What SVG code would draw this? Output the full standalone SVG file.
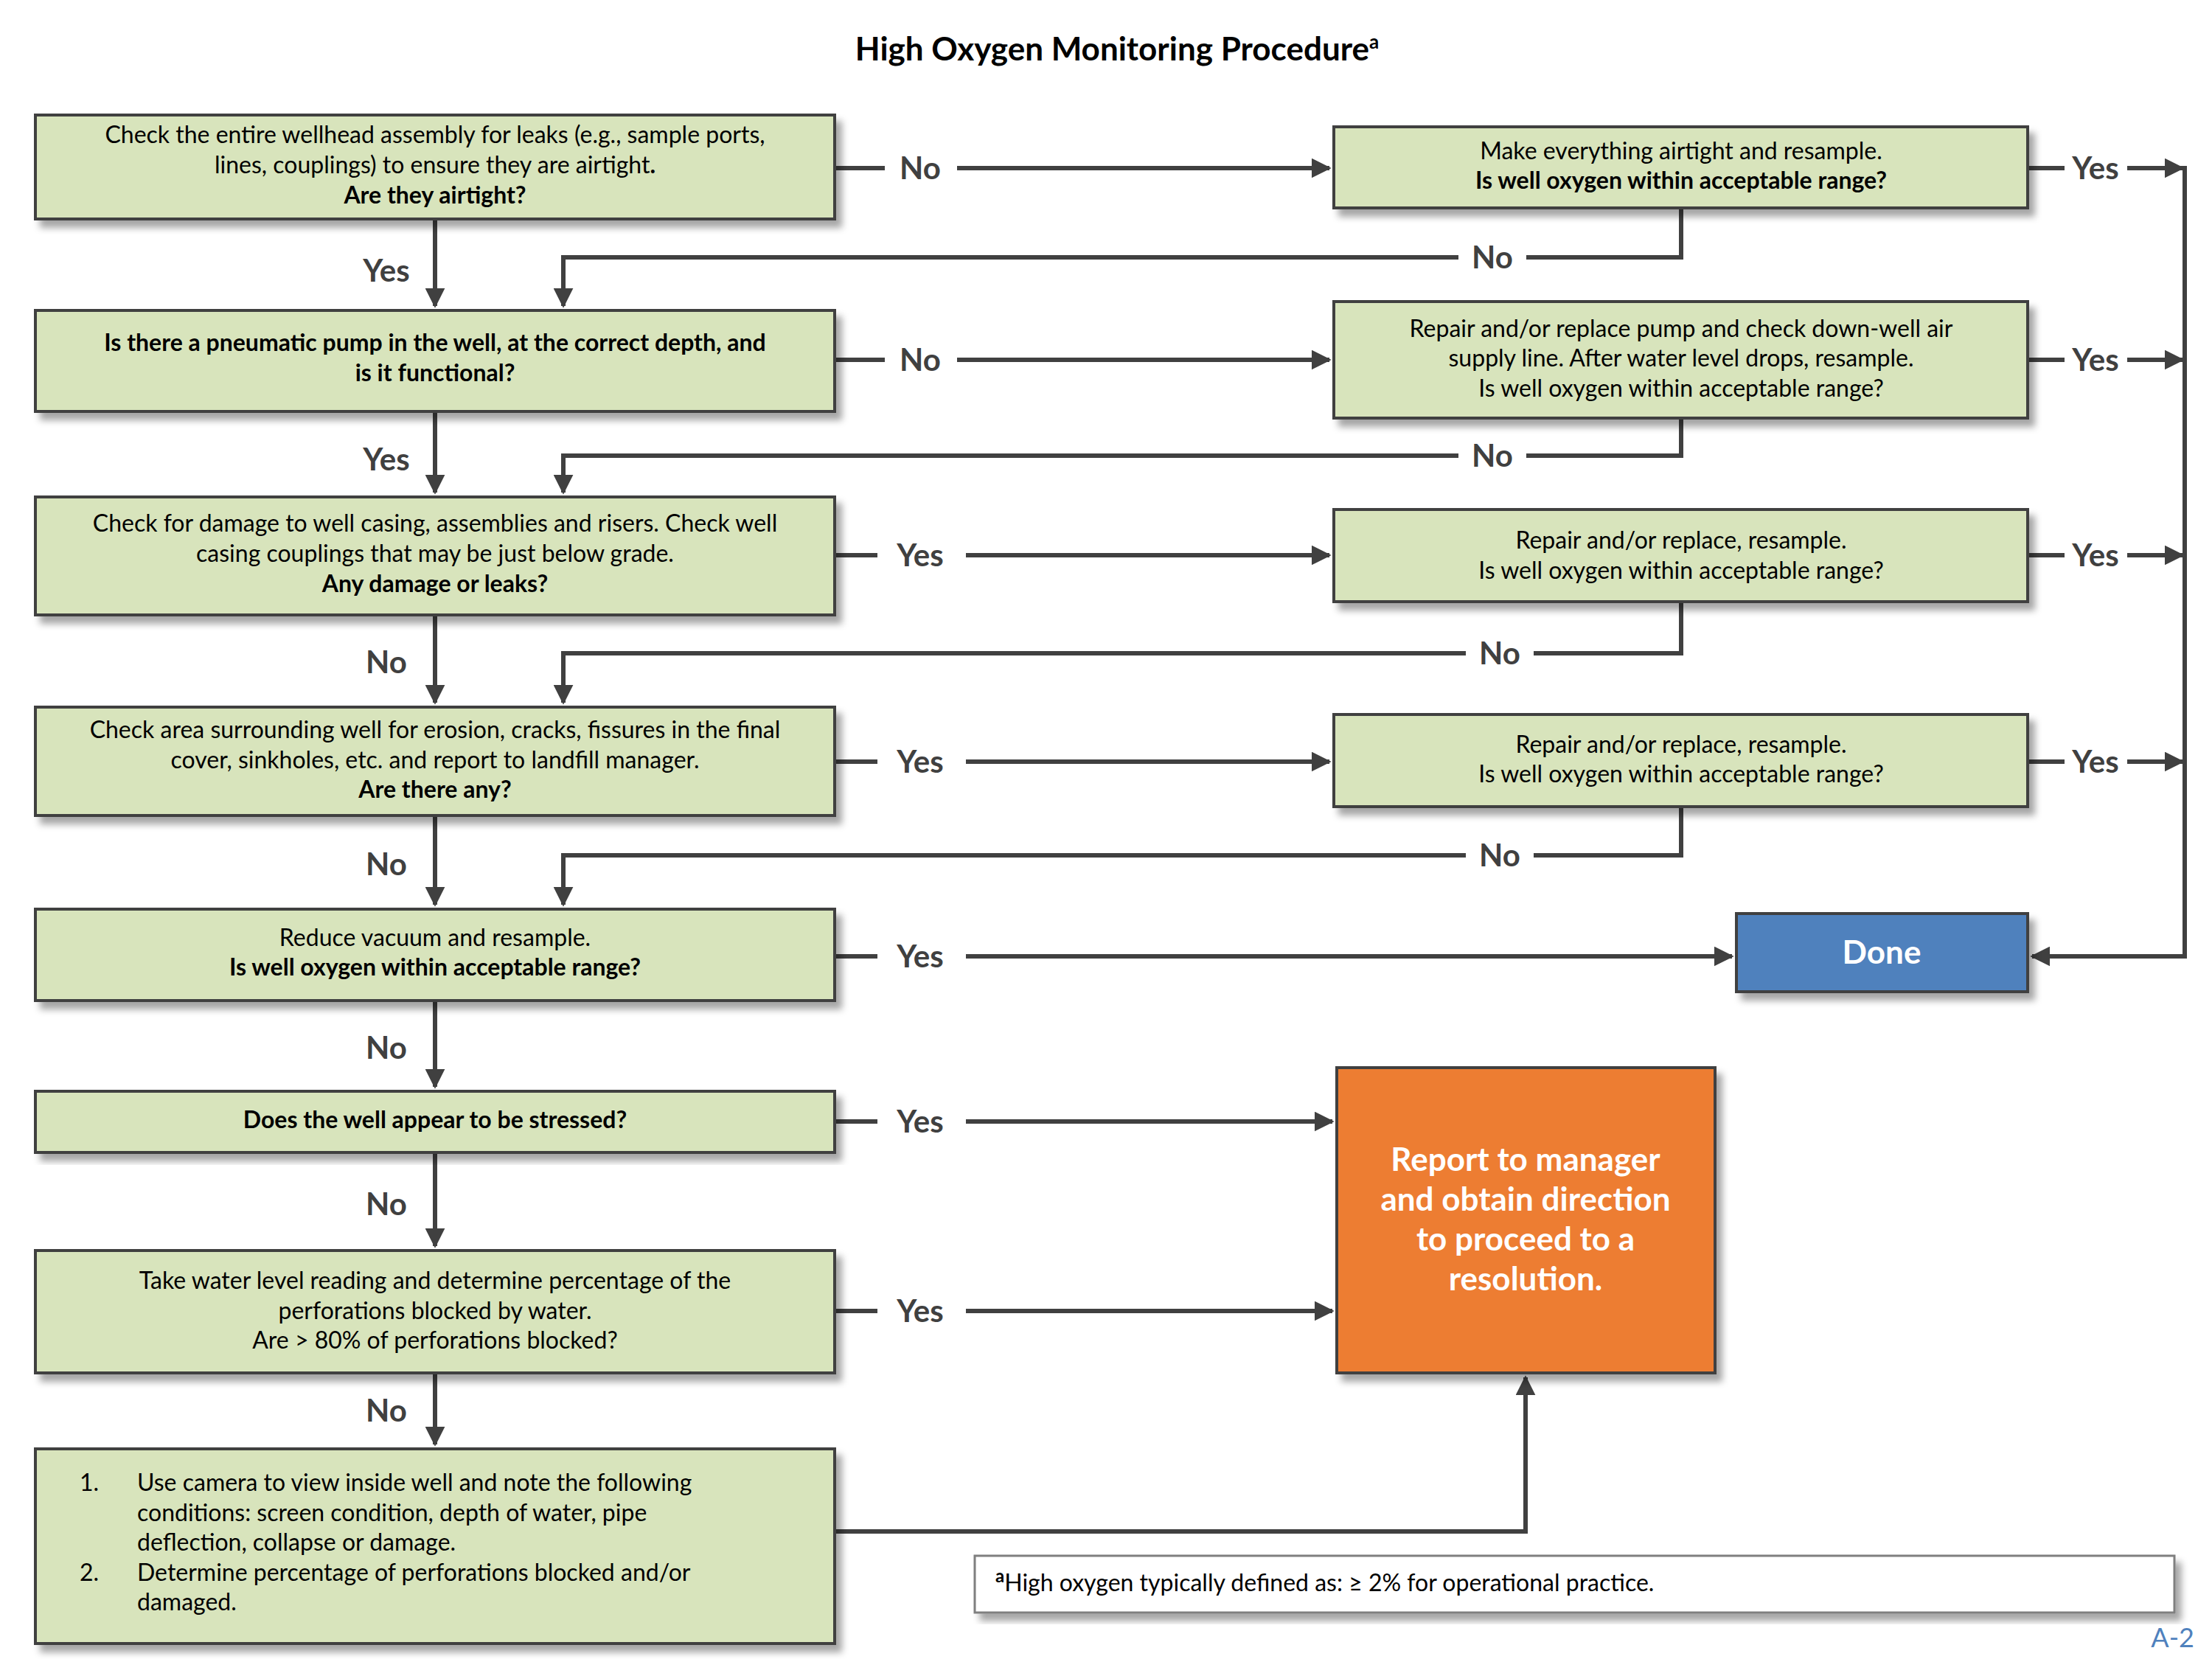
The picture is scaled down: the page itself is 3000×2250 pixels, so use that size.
<svg xmlns="http://www.w3.org/2000/svg" width="3000" height="2250" viewBox="0 0 3000 2250">
<style>
text{font-family:Lato,"Open Sans","Liberation Sans",sans-serif;fill:#000}
.t{font-size:32px;text-anchor:middle}
.b{font-weight:bold}
.g{fill:#d8e4bc;stroke:#404040;stroke-width:4;filter:url(#sh)}
.lbl{font-size:42px;font-weight:bold;fill:#404040;text-anchor:middle}
.c{fill:none;stroke:#404040;stroke-width:6}
.a{marker-end:url(#ah)}
</style>
<defs>
<filter id="sh" x="-5%" y="-10%" width="115%" height="130%"><feDropShadow dx="8" dy="10" stdDeviation="5" flood-color="#000" flood-opacity="0.35"/></filter>
<marker id="ah" viewBox="0 0 10 10" refX="9" refY="5" markerWidth="4.5" markerHeight="4.5" orient="auto" markerUnits="strokeWidth"><path d="M0,0L10,5L0,10z" fill="#404040"/></marker>
</defs>
<rect width="3000" height="2250" fill="#fff"/>
<text x="1515" y="82" font-size="44" font-weight="bold" text-anchor="middle">High Oxygen Monitoring Procedure<tspan font-size="26" dy="-16">a</tspan></text>

<g id="connectors">
<path class="c a" d="M590,297V415"/><path class="c a" d="M590,558V668"/><path class="c a" d="M590,834V953"/><path class="c a" d="M590,1106V1227"/><path class="c a" d="M590,1357V1474"/><path class="c a" d="M590,1563V1690"/><path class="c a" d="M590,1862V1959"/>
<path class="c" d="M1132,228H1200"/><path class="c a" d="M1298,228H1803"/>
<path class="c" d="M1132,488H1200"/><path class="c a" d="M1298,488H1803"/>
<path class="c" d="M1132,753H1190"/><path class="c a" d="M1310,753H1803"/>
<path class="c" d="M1132,1033H1190"/><path class="c a" d="M1310,1033H1803"/>
<path class="c" d="M1132,1297H1190"/><path class="c a" d="M1310,1297H2349"/>
<path class="c" d="M1132,1521H1190"/><path class="c a" d="M1310,1521H1807"/>
<path class="c" d="M1132,1778H1190"/><path class="c a" d="M1310,1778H1807"/>
<path class="c a" d="M1132,2077H2069V1868"/>
<path class="c" d="M2280,282V349H2070"/><path class="c a" d="M1978,349H764V415"/>
<path class="c" d="M2280,567V618H2070"/><path class="c a" d="M1978,618H764V668"/>
<path class="c" d="M2280,816V886H2080"/><path class="c a" d="M1988,886H764V953"/>
<path class="c" d="M2280,1094V1160H2080"/><path class="c a" d="M1988,1160H764V1227"/>
<path class="c" d="M2750,228H2800"/><path class="c a" d="M2885,228H2960"/>
<path class="c" d="M2750,488H2800"/><path class="c a" d="M2885,488H2960"/>
<path class="c" d="M2750,753H2800"/><path class="c a" d="M2885,753H2960"/>
<path class="c" d="M2750,1033H2800"/><path class="c a" d="M2885,1033H2960"/>
<path class="c a" d="M2963,225V1297H2756"/>
<text class="lbl" x="1248" y="243">No</text><text class="lbl" x="1248" y="503">No</text>
<text class="lbl" x="1248" y="768">Yes</text><text class="lbl" x="1248" y="1048">Yes</text>
<text class="lbl" x="1248" y="1312">Yes</text><text class="lbl" x="1248" y="1536">Yes</text><text class="lbl" x="1248" y="1793">Yes</text>
<text class="lbl" x="2842" y="243">Yes</text><text class="lbl" x="2842" y="503">Yes</text><text class="lbl" x="2842" y="768">Yes</text><text class="lbl" x="2842" y="1048">Yes</text>
<text class="lbl" x="2024" y="364">No</text><text class="lbl" x="2024" y="633">No</text><text class="lbl" x="2034" y="901">No</text><text class="lbl" x="2034" y="1175">No</text>
<text class="lbl" x="524" y="382">Yes</text><text class="lbl" x="524" y="638">Yes</text><text class="lbl" x="524" y="913">No</text><text class="lbl" x="524" y="1187">No</text><text class="lbl" x="524" y="1436">No</text><text class="lbl" x="524" y="1648">No</text><text class="lbl" x="524" y="1928">No</text>
</g>

<g id="n1"><rect class="g" x="48" y="156" width="1084" height="141"/>
<text class="t" x="590" y="194">Check the entire wellhead assembly for leaks (e.g., sample ports,</text>
<text class="t" x="590" y="235">lines, couplings) to ensure they are airtight<tspan class="b">.</tspan></text>
<text class="t b" x="590" y="276">Are they airtight?</text></g>
<g id="n2"><rect class="g" x="48" y="421" width="1084" height="137"/>
<text class="t b" x="590" y="476">Is there a pneumatic pump in the well, at the correct depth, and</text>
<text class="t b" x="590" y="517">is it functional?</text></g>
<g id="n3"><rect class="g" x="48" y="674" width="1084" height="160"/>
<text class="t" x="590" y="721">Check for damage to well casing, assemblies and risers. Check well</text>
<text class="t" x="590" y="762">casing couplings that may be just below grade.</text>
<text class="t b" x="590" y="803">Any damage or leaks?</text></g>
<g id="n4"><rect class="g" x="48" y="959" width="1084" height="147"/>
<text class="t" x="590" y="1001">Check area surrounding well for erosion, cracks, fissures in the final</text>
<text class="t" x="590" y="1042">cover, sinkholes, etc. and report to landfill manager.</text>
<text class="t b" x="590" y="1082">Are there any?</text></g>
<g id="n5"><rect class="g" x="48" y="1233" width="1084" height="124"/>
<text class="t" x="590" y="1283">Reduce vacuum and resample.</text>
<text class="t b" x="590" y="1323">Is well oxygen within acceptable range?</text></g>
<g id="n6"><rect class="g" x="48" y="1480" width="1084" height="83"/>
<text class="t b" x="590" y="1530">Does the well appear to be stressed?</text></g>
<g id="n7"><rect class="g" x="48" y="1696" width="1084" height="166"/>
<text class="t" x="590" y="1748">Take water level reading and determine percentage of the</text>
<text class="t" x="590" y="1789">perforations blocked by water.</text>
<text class="t" x="590" y="1829">Are &gt; 80% of perforations blocked?</text></g>
<g id="n8"><rect class="g" x="48" y="1965" width="1084" height="264"/>
<g font-size="32"><text x="108" y="2022">1.</text>
<text x="186" y="2022">Use camera to view inside well and note the following</text>
<text x="186" y="2063">conditions: screen condition, depth of water, pipe</text>
<text x="186" y="2103">deflection, collapse or damage.</text>
<text x="108" y="2144">2.</text>
<text x="186" y="2144">Determine percentage of perforations blocked and/or</text>
<text x="186" y="2184">damaged.</text></g></g>

<g id="r1"><rect class="g" x="1809" y="172" width="941" height="110"/>
<text class="t" x="2280" y="216">Make everything airtight and resample.</text>
<text class="t b" x="2280" y="256">Is well oxygen within acceptable range?</text></g>
<g id="r2"><rect class="g" x="1809" y="409" width="941" height="158"/>
<text class="t" x="2280" y="457">Repair and/or replace pump and check down-well air</text>
<text class="t" x="2280" y="497">supply line. After water level drops, resample.</text>
<text class="t" x="2280" y="538">Is well oxygen within acceptable range?</text></g>
<g id="r3"><rect class="g" x="1809" y="691" width="941" height="125"/>
<text class="t" x="2280" y="744">Repair and/or replace, resample.</text>
<text class="t" x="2280" y="785">Is well oxygen within acceptable range?</text></g>
<g id="r4"><rect class="g" x="1809" y="969" width="941" height="125"/>
<text class="t" x="2280" y="1021">Repair and/or replace, resample.</text>
<text class="t" x="2280" y="1061">Is well oxygen within acceptable range?</text></g>
<g id="done"><rect x="2355" y="1239" width="395" height="106" fill="#4f81bd" stroke="#404040" stroke-width="4" filter="url(#sh)"/>
<text x="2552" y="1307" font-size="44" font-weight="bold" text-anchor="middle" style="fill:#fff">Done</text></g>
<g id="report"><rect x="1813" y="1448" width="513" height="414" fill="#ed7d31" stroke="#404040" stroke-width="4" filter="url(#sh)"/>
<g font-size="44" font-weight="bold" text-anchor="middle" style="fill:#fff">
<text x="2069" y="1588" style="fill:#fff">Report to manager</text>
<text x="2069" y="1642" style="fill:#fff">and obtain direction</text>
<text x="2069" y="1696" style="fill:#fff">to proceed to a</text>
<text x="2069" y="1750" style="fill:#fff">resolution.</text></g></g>
<g id="footnote"><rect x="1322" y="2110" width="1627" height="77" fill="#fff" stroke="#7f7f7f" stroke-width="3" filter="url(#sh)"/>
<text x="1350" y="2158" font-size="32"><tspan font-size="24" font-weight="bold" dy="-12">a</tspan><tspan dy="12">High oxygen typically defined as: ≥ 2% for operational practice.</tspan></text></g>
<text x="2976" y="2234" font-size="36" text-anchor="end" style="fill:#4f81bd">A-2</text>
</svg>
